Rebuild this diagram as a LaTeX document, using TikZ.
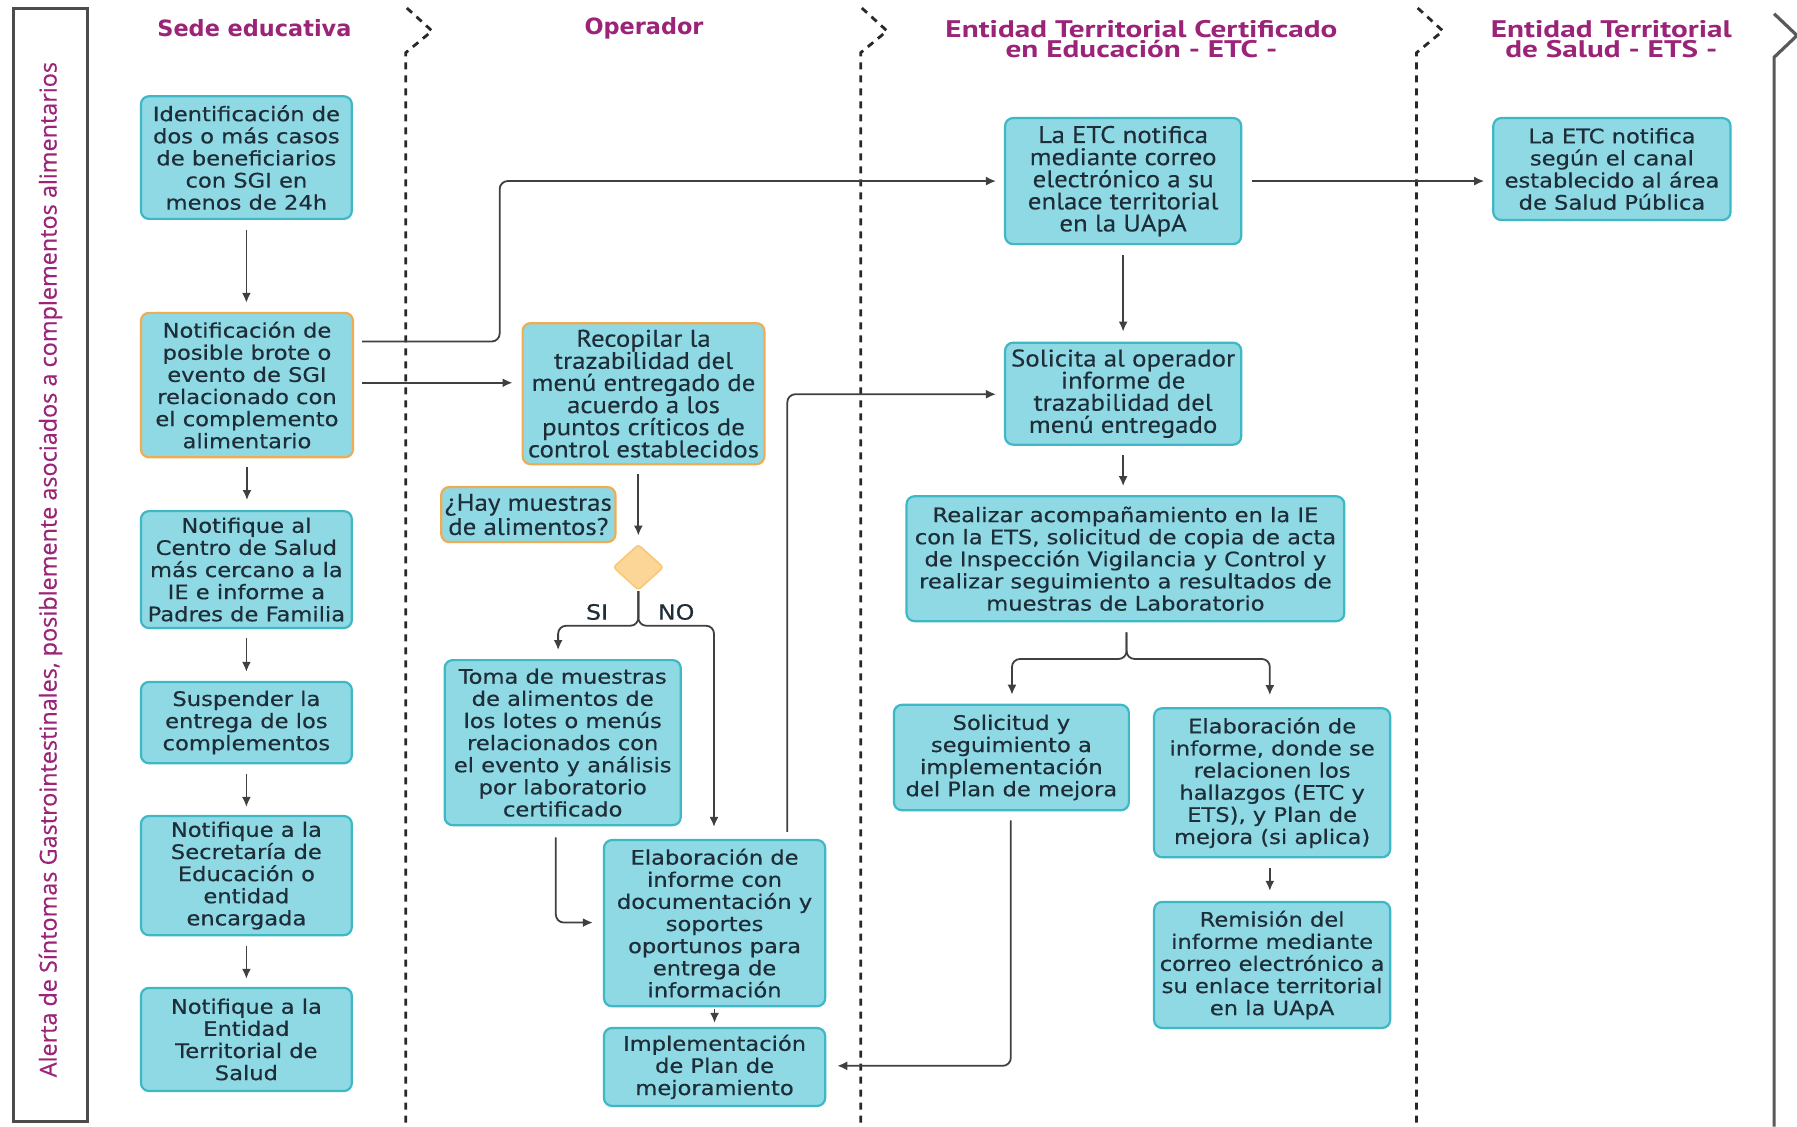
\documentclass[tikz,border=0pt]{standalone}
\usepackage{fontspec}
\setmainfont{DejaVu Sans}
\newfontfamily\widefont[FakeStretch=1.13,FakeBold=0.5]{DejaVu Sans}
\newfontfamily\condfont[FakeStretch=1.12,FakeBold=0.3]{PT Sans}
\newfontfamily\hdcfont[FakeStretch=1.3]{PT Sans}
\newfontfamily\labfont[FakeBold=0.4]{Open Sans}
\newfontfamily\hdfont{DejaVu Sans}
\usetikzlibrary{arrows.meta,shapes.geometric}
\definecolor{boxfill}{RGB}{143,217,229}
\definecolor{boxline}{RGB}{62,184,196}
\definecolor{orline}{RGB}{240,172,84}
\definecolor{dfill}{RGB}{252,214,150}
\definecolor{dline}{RGB}{248,200,120}
\definecolor{txt}{RGB}{30,46,56}
\definecolor{hdr}{RGB}{155,35,120}
\definecolor{arr}{RGB}{64,64,64}
\definecolor{lanec}{RGB}{40,40,40}
\tikzset{
  bx/.style={draw=boxline, fill=boxfill, line width=1.1pt, rounded corners=4pt, align=center, inner sep=0pt, text=txt, font=\widefont\fontsize{10}{11.06}\selectfont},
  obx/.style={bx, draw=orline},
  cfont/.style={font=\condfont\fontsize{12}{11.06}\selectfont},
  sz/.style 2 args={minimum width={#1*0.573pt}, minimum height={#2*0.573pt}},
  arw/.style={draw=arr, line width=0.9pt, -{Latex[length=5pt,width=4.5pt]}, rounded corners=4pt},
  lanel/.style={draw=lanec, line width=1.4pt, dash pattern=on 3.5pt off 3pt},
  hdA/.style={text=hdr, align=center, inner sep=0pt, font=\hdfont\bfseries\fontsize{11.2}{12}\selectfont},
  hdB/.style={text=hdr, align=center, inner sep=0pt, font=\hdcfont\bfseries\fontsize{12}{10.3}\selectfont},
  yn/.style={text=txt, inner sep=0pt, font=\widefont\fontsize{10.5}{12}\selectfont}
}
\begin{document}
\begin{tikzpicture}[x=0.573pt, y=-0.573pt]
\useasboundingbox (0,0) rectangle (1568,983);
\fill[white] (0,0) rectangle (1568,983);

% frame and lanes
\draw[draw=black!70, line width=1.5pt] (12,7) rectangle (76,979);
\node[rotate=90, text=hdr, inner sep=0pt, font=\labfont\fontsize{11.7}{12}\selectfont] (lbl) at (44,497) {Alerta de Síntomas Gastrointestinales, posiblemente asociados a complementos alimentarios};
\draw[lanel] (355,7) -- (377,27) -- (354,46) -- (354,983);
\draw[lanel] (752,7) -- (774,27) -- (751,46) -- (751,983);
\draw[lanel] (1237,7) -- (1259,27) -- (1236,46) -- (1236,983);
\draw[draw=black!65, line width=1.6pt] (1548,12) -- (1568,31) -- (1548,50) -- (1548,983);

% headers
\node[hdA] (h1) at (222,25) {Sede educativa};
\node[hdA] (h2) at (562,25) {Operador};
\node[hdB] (h3) at (996,34) {Entidad Territorial Certificado\\en Educación - ETC -};
\node[hdB] (h4) at (1406,34) {Entidad Territorial\\de Salud - ETS -};

% Sede educativa
\node[bx, sz={184}{107}] (b1) at (215,137.5) {Identificación de\\dos o más casos\\de beneficiarios\\con SGI en\\menos de 24h};
\node[obx, sz={185}{126}] (b2) at (215.5,336) {Notificación de\\posible brote o\\evento de SGI\\relacionado con\\el complemento\\alimentario};
\node[bx, sz={184}{102}] (b3) at (215,497) {Notifique al\\Centro de Salud\\más cercano a la\\IE e informe a\\Padres de Familia};
\node[bx, sz={184}{71}] (b4) at (215,630.5) {Suspender la\\entrega de los\\complementos};
\node[bx, sz={184}{104}] (b5) at (215,764) {Notifique a la\\Secretaría de\\Educación o\\entidad\\encargada};
\node[bx, sz={184}{90}] (b6) at (215,907) {Notifique a la\\Entidad\\Territorial de\\Salud};

% Operador
\node[obx, cfont, sz={211}{123}] (o1) at (561.5,343.5) {Recopilar la\\trazabilidad del\\menú entregado de\\acuerdo a los\\puntos críticos de\\control establecidos};
\node[obx, cfont, sz={152}{48}] (q) at (461,449) {¿Hay muestras\\de alimentos?};
\node[diamond, draw=dline, fill=dfill, line width=0.8pt, inner sep=0pt, minimum width={44*0.573pt}, minimum height={40*0.573pt}, rounded corners=1.5pt] (d) at (557,495) {};
\node[bx, sz={206}{144}] (o2) at (491,648) {Toma de muestras\\de alimentos de\\los lotes o menús\\relacionados con\\el evento y análisis\\por laboratorio\\certificado};
\node[bx, sz={193}{145}] (o3) at (623.5,805.5) {Elaboración de\\informe con\\documentación y\\soportes\\oportunos para\\entrega de\\información};
\node[bx, sz={193}{68}] (o4) at (623.5,931) {Implementación\\de Plan de\\mejoramiento};
\node[yn] (si) at (521,534) {SI};
\node[yn] (no) at (590,534) {NO};

% ETC
\node[bx, cfont, sz={206}{110}] (e1) at (980,158) {La ETC notifica\\mediante correo\\electrónico a su\\enlace territorial\\en la UApA};
\node[bx, cfont, sz={206}{89}] (e2) at (980,343.5) {Solicita al operador\\informe de\\trazabilidad del\\menú entregado};
\node[bx, sz={382}{109}] (e3) at (982,487.5) {Realizar acompañamiento en la IE\\con la ETS, solicitud de copia de acta\\de Inspección Vigilancia y Control y\\realizar seguimiento a resultados de\\muestras de Laboratorio};
\node[bx, sz={205}{92}] (e4) at (882.5,661) {Solicitud y\\seguimiento a\\implementación\\del Plan de mejora};
\node[bx, sz={206}{130}] (e5) at (1110,683) {Elaboración de\\informe, donde se\\relacionen los\\hallazgos (ETC y\\ETS), y Plan de\\mejora (si aplica)};
\node[bx, sz={206}{110}] (e6) at (1110,842) {Remisión del\\informe mediante\\correo electrónico a\\su enlace territorial\\en la UApA};

% ETS
\node[bx, sz={207}{89}] (s1) at (1406.5,147.5) {La ETC notifica\\según el canal\\establecido al área\\de Salud Pública};

% connectors - Sede
\draw[arw, shorten <=5pt, shorten >=4.5pt] (b1.south) -- (b1.south |- b2.north);
\draw[arw, shorten <=4.5pt, shorten >=5pt] (b2.south) -- (b2.south |- b3.north);
\draw[arw, shorten <=4.5pt, shorten >=4.5pt] (b3.south) -- (b3.south |- b4.north);
\draw[arw, shorten <=5pt, shorten >=4pt] (b4.south) -- (b4.south |- b5.north);
\draw[arw, shorten <=5pt, shorten >=4pt] (b5.south) -- (b5.south |- b6.north);
\draw[arw, shorten <=4pt, shorten >=4pt] (b2.east |- 0,298) -- (436,298) -- (436,158) -- (e1.west);
\draw[arw, shorten <=4pt, shorten >=4.5pt] (b2.east |- 0,334) -- (o1.west |- 0,334);

% connectors - Operador
\draw[arw, shorten <=4.5pt, shorten >=4pt] (d.north |- o1.south) -- (d.north);
\draw[arw, shorten >=4.5pt] (d.south) -- (557,546) -- (487,546) -- (487,0 |- o2.north);
\draw[arw, shorten >=6pt] (d.south) -- (557,546) -- (623,546) -- (623,0 |- o3.north);
\draw[arw, shorten <=5.5pt, shorten >=5pt] (485,0 |- o2.south) -- (485,805) -- (o3.west |- 0,805);
\draw[arw, shorten <=1pt, shorten >=2pt] (o3.south) -- (o4.north);
\draw[arw, shorten <=3.5pt, shorten >=4pt] (687,0 |- o3.north) -- (687,344) -- (e2.west |- 0,344);

% connectors - ETC
\draw[arw, shorten <=5pt, shorten >=5pt] (e1.south) -- (e2.north);
\draw[arw, shorten <=5pt, shorten >=4pt] (e1.east) -- (s1.west |- e1.east);
\draw[arw, shorten <=4.5pt, shorten >=4.5pt] (e2.south) -- (e2.south |- e3.north);
\draw[arw, shorten <=5pt, shorten >=4.5pt] (983,0 |- e3.south) -- (983,575) -- (883,575) -- (883,0 |- e4.north);
\draw[arw, shorten <=5pt, shorten >=6pt] (983,0 |- e3.south) -- (983,575) -- (1108,575) -- (1108,0 |- e5.north);
\draw[arw, shorten <=4.5pt, shorten >=5.5pt] (882,0 |- e4.south) -- (882,930) -- (o4.east |- 0,930);
\draw[arw, shorten <=5pt, shorten >=5pt] (1108,0 |- e5.south) -- (1108,0 |- e6.north);
\end{tikzpicture}
\end{document}
